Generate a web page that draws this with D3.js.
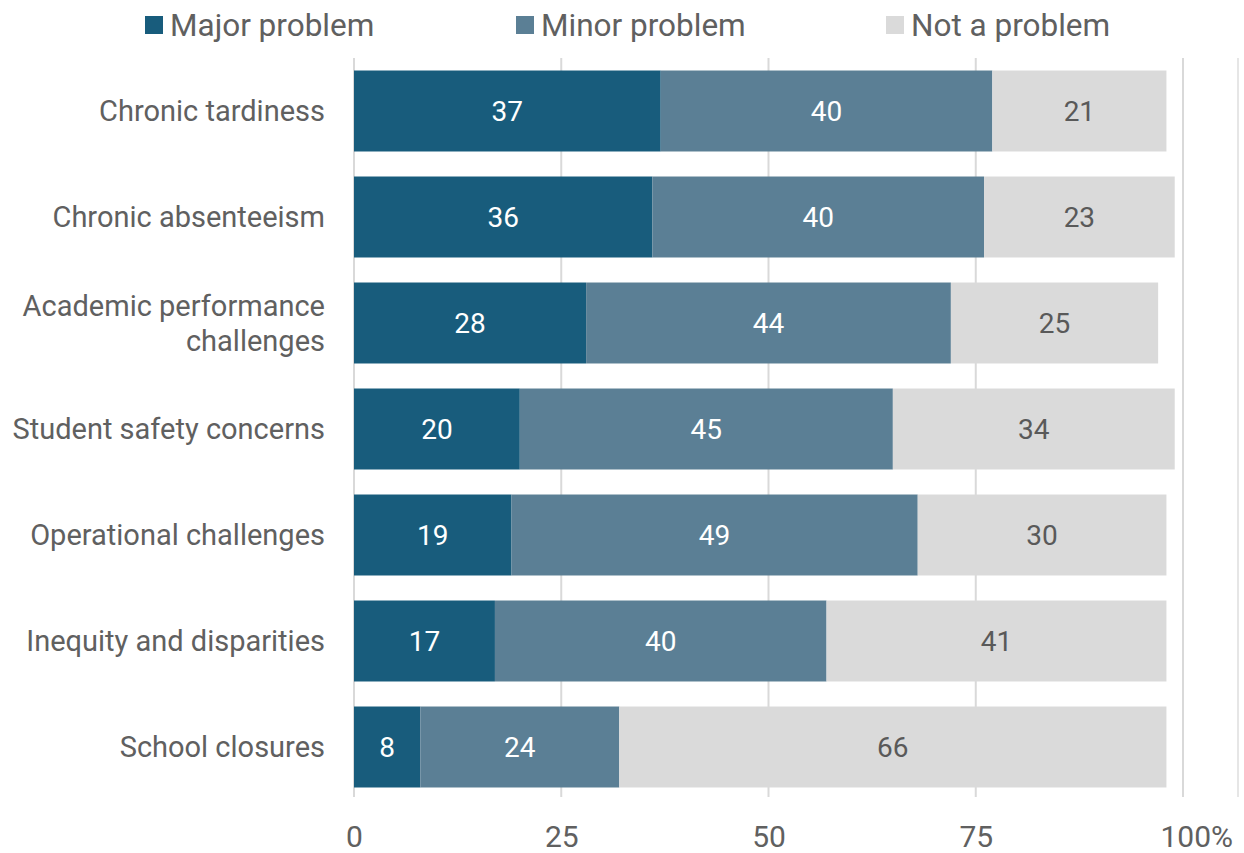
<!DOCTYPE html>
<html><head><meta charset="utf-8">
<script src="https://cdn.jsdelivr.net/npm/d3@7"></script>
<style>body{margin:0;background:#fff}svg{display:block;font-family:Roboto,"Noto Sans",sans-serif}</style>
</head><body>
<svg id="c" width="1244" height="853"></svg>
<script>
const categories = ["Chronic tardiness","Chronic absenteeism","Academic performance\nchallenges","Student safety concerns","Operational challenges","Inequity and disparities","School closures"];
const seriesNames = ["Major problem","Minor problem","Not a problem"];
const major = [37,36,28,20,19,17,8];
const minor = [40,40,44,45,49,40,24];
const notProblem = [21,23,25,34,30,41,66];
const tickValues = [0,25,50,75,100];
const tickLabels = ["0","25","50","75","100%"];

const colors = ["#185c7c","#5b7f95","#dadada"];
const textColors = ["#ffffff","#ffffff","#595959"];
const gray = "#606060";
const svg = d3.select("#c");
const x = d3.scaleLinear().domain([0,100]).range([354,1183]);
const y = d3.scaleBand().domain(categories).range([58,800]).paddingInner(0.236).paddingOuter(0.118);

const rows = categories.map((c,i)=>({c, vals:[major[i],minor[i],notProblem[i]]}));

// gridlines
svg.append("g").selectAll("line").data(tickValues).join("line")
  .attr("x1",d=>x(d)).attr("x2",d=>x(d)).attr("y1",58).attr("y2",797)
  .attr("stroke","#d9d9d9").attr("stroke-width",2);
svg.append("line").attr("x1",1238).attr("x2",1238).attr("y1",58).attr("y2",797).attr("stroke","#e6e6e6").attr("stroke-width",2);

// bars
rows.forEach(r=>{
  let acc=0;
  const g = svg.append("g");
  r.vals.forEach((v,j)=>{
    const x0=acc, x1=acc+v; acc=x1;
    g.append("rect").attr("x",x(x0)).attr("width",x(x1)-x(x0))
      .attr("y",y(r.c)).attr("height",y.bandwidth()).attr("fill",colors[j]);
    g.append("text").attr("x",(x(x0)+x(x1))/2).attr("y",y(r.c)+y.bandwidth()/2)
      .attr("dy","0.35em").attr("text-anchor","middle").attr("font-size",28)
      .attr("fill",textColors[j]).text(v);
  });
});

// category labels
const yl = svg.append("g");
categories.forEach(c=>{
  const lines = c.split("\n");
  const cy = y(c)+y.bandwidth()/2;
  lines.forEach((ln,k)=>{
    yl.append("text").attr("x",325).attr("y",cy+(k-(lines.length-1)/2)*35)
      .attr("dy","0.35em").attr("text-anchor","end").attr("font-size",29)
      .attr("fill",gray).text(ln);
  });
});

// x axis labels
const xa = svg.append("g").attr("transform","translate(0,800)")
  .call(d3.axisBottom(x).tickValues(tickValues).tickSize(0).tickFormat((d,i)=>tickLabels[i]));
xa.select(".domain").remove();
xa.selectAll("text").attr("font-size",30).attr("fill",gray).attr("font-family","Roboto,sans-serif").attr("dy","1.45em")
  .attr("text-anchor",(d)=>d===100?"start":"middle").attr("dx",d=>d===100?-23:0);

// legend
const lx=[145,516,886];
seriesNames.forEach((s,i)=>{
  svg.append("rect").attr("x",lx[i]).attr("y",16).attr("width",18).attr("height",18).attr("fill",colors[i]);
  svg.append("text").attr("x",lx[i]+25).attr("y",25).attr("dy","0.35em").attr("font-size",31.5)
    .attr("fill",gray).text(s);
});
</script>
</body></html>
